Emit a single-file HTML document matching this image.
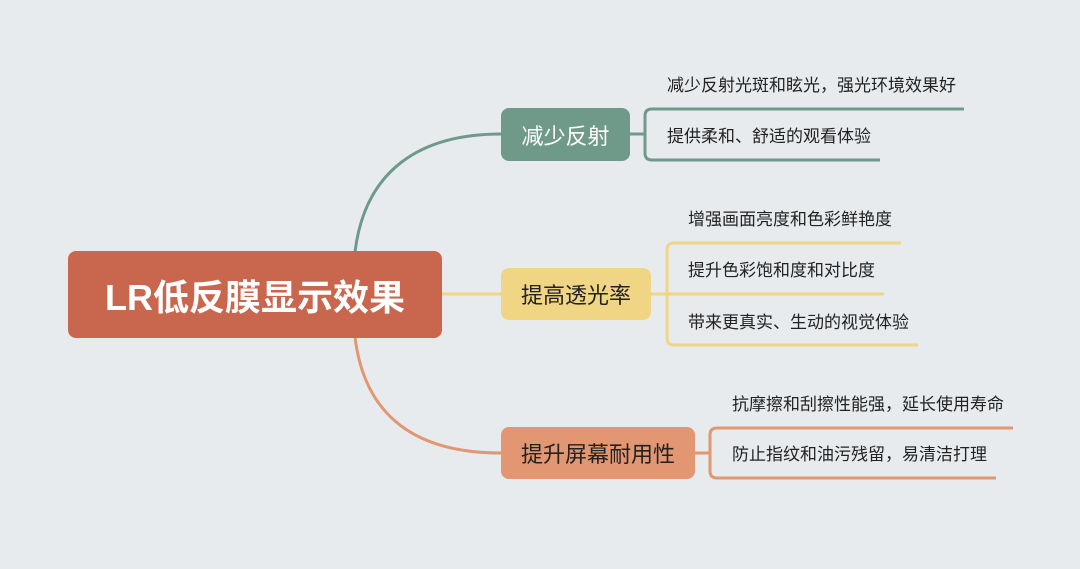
<!DOCTYPE html>
<html><head><meta charset="utf-8"><style>
html,body{margin:0;padding:0;}
body{width:1080px;height:569px;background:#e8ebee;position:relative;overflow:hidden;font-family:"Liberation Sans","Noto Sans CJK SC",sans-serif;}
.b{position:absolute;border-radius:8px;display:flex;align-items:center;justify-content:center;}
.t{position:absolute;font-size:17px;color:#222;white-space:nowrap;line-height:20px;}
</style></head><body>
<svg width="1080" height="569" style="position:absolute;left:0;top:0" fill="none" stroke-width="3">
<path d="M355 252 C365 170 420 134 501 134" stroke="#6f9a8a"/>
<path d="M630 134 H645" stroke="#6f9a8a"/>
<path d="M964 109 H652 Q645 109 645 116 V153 Q645 160 652 160 H880" stroke="#6f9a8a"/>
<path d="M442 294 H501" stroke="#f0d585"/>
<path d="M651 294 H884" stroke="#f0d585"/>
<path d="M901 243 H674 Q667 243 667 250 V338 Q667 345 674 345 H918" stroke="#f0d585"/>
<path d="M355 337 C365 420 420 453 501 453" stroke="#e29672"/>
<path d="M695 453 H710" stroke="#e29672"/>
<path d="M1013 428 H717 Q710 428 710 435 V471 Q710 478 717 478 H996" stroke="#e29672"/>
</svg>
<div class="b" style="left:68px;top:251px;width:374px;height:87px;background:#c9664e;color:#fff;font-size:36px;font-weight:bold;">LR低反膜显示效果</div>
<div class="b" style="left:501px;top:108px;width:129px;height:53px;background:#6f9a8a;color:#fff;font-size:22px;">减少反射</div>
<div class="b" style="left:501px;top:268px;width:150px;height:52px;background:#f0d585;color:#222;font-size:22px;">提高透光率</div>
<div class="b" style="left:501px;top:427px;width:194px;height:52px;background:#e29672;color:#222;font-size:22px;">提升屏幕耐用性</div>
<div class="t" style="left:667px;top:76px;">减少反射光斑和眩光，强光环境效果好</div>
<div class="t" style="left:667px;top:127px;">提供柔和、舒适的观看体验</div>
<div class="t" style="left:688px;top:210px;">增强画面亮度和色彩鲜艳度</div>
<div class="t" style="left:688px;top:261px;">提升色彩饱和度和对比度</div>
<div class="t" style="left:688px;top:313px;">带来更真实、生动的视觉体验</div>
<div class="t" style="left:732px;top:395px;">抗摩擦和刮擦性能强，延长使用寿命</div>
<div class="t" style="left:732px;top:445px;">防止指纹和油污残留，易清洁打理</div>
</body></html>
